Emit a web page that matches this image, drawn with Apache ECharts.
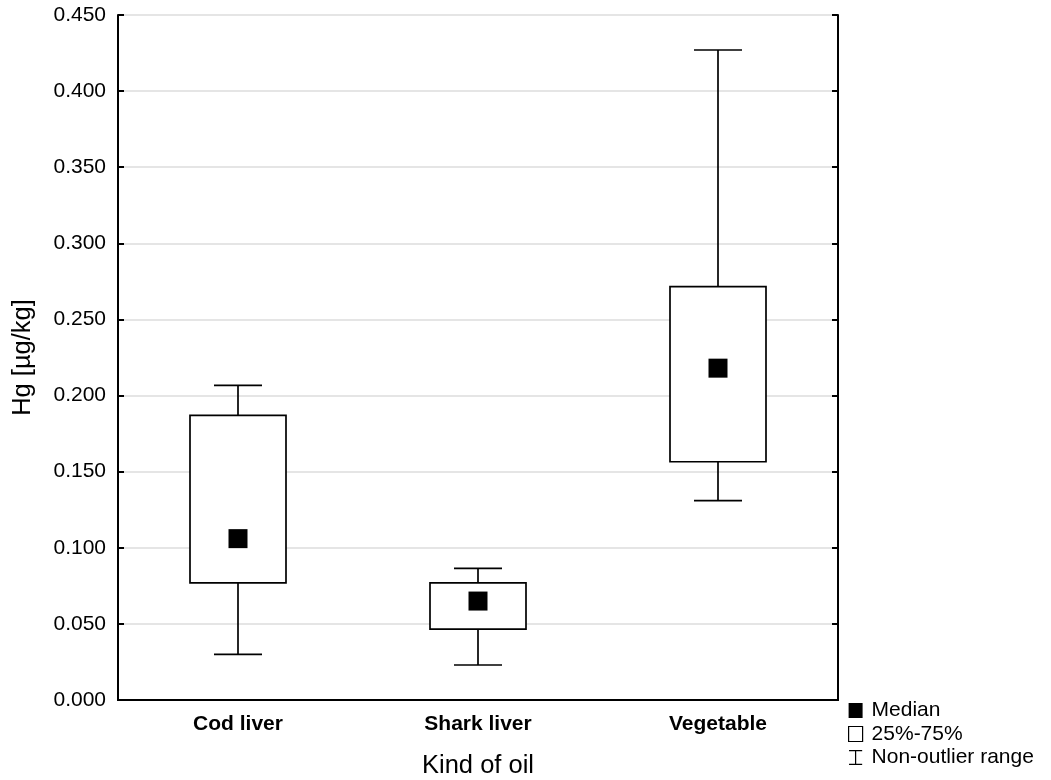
<!DOCTYPE html>
<html>
<head>
<meta charset="utf-8">
<script src="https://cdn.jsdelivr.net/npm/echarts@6/dist/echarts.min.js"></script>
<style>html,body{margin:0;padding:0;background:#fff}#c{width:1051px;height:780px}</style>
</head>
<body>
<div id="c"></div>
<script>
const categories = ['Cod liver', 'Shark liver', 'Vegetable'];
const whiskerLow = [0.030, 0.023, 0.131];
const q1 = [0.077, 0.0465, 0.1565];
const median = [0.106, 0.065, 0.218];
const q3 = [0.187, 0.077, 0.2715];
const whiskerHigh = [0.2067, 0.0865, 0.427];
const yTicks = { min: 0, max: 0.45, interval: 0.05 };

const boxData = categories.map((c, i) => [i, q1[i], q3[i]]);
const whiskerData = categories.map((c, i) => [i, whiskerLow[i], q1[i], q3[i], whiskerHigh[i]]);
const medianData = categories.map((c, i) => [i, median[i]]);

const chart = echarts.init(document.getElementById('c'), null, { renderer: 'canvas' });
const font = 'Liberation Sans, Arial, sans-serif';
const lineStyle = { stroke: '#000', lineWidth: 1.7 };
const axisLine = { color: '#000', width: 2 };

chart.setOption({
  animation: false,
  backgroundColor: '#fff',
  textStyle: { fontFamily: font, color: '#000' },
  grid: { left: 118, top: 15, right: 213, bottom: 80, containLabel: false, outerBoundsMode: 'none' },
  legend: {
    orient: 'vertical', left: 848, top: 700, padding: 0,
    itemWidth: 14, itemHeight: 15, itemGap: 2.5,
    textStyle: { fontSize: 21, lineHeight: 21, color: '#000', fontFamily: font, padding: [0, 0, 0, 4] },
    data: [
      { name: 'Median', icon: 'rect', itemStyle: { color: '#000', borderWidth: 0, opacity: 1 } },
      { name: '25%-75%', icon: 'rect', itemStyle: { color: '#fff', borderColor: '#000', borderWidth: 1.2 } },
      { name: 'Non-outlier range', icon: 'path://M0,0h14v1.3h-6.35v13.4h6.35v1.3h-14v-1.3h6.35v-13.4h-6.35z', itemStyle: { color: '#000', borderWidth: 0 } }
    ]
  },
  xAxis: [{
    type: 'category', data: categories, boundaryGap: true,
    name: 'Kind of oil', nameLocation: 'middle', nameGap: 53,
    nameTextStyle: { fontSize: 25.5, color: '#000', fontFamily: font },
    axisLine: { lineStyle: axisLine },
    axisTick: { inside: true, alignWithLabel: true, length: 6, lineStyle: axisLine },
    axisLabel: { fontSize: 21, fontWeight: 'bold', color: '#000', margin: 14, fontFamily: font },
    splitLine: { show: false }
  }, {
    type: 'category', data: categories, position: 'top', boundaryGap: true,
    axisLine: { lineStyle: axisLine },
    axisTick: { inside: true, alignWithLabel: true, length: 6, lineStyle: axisLine },
    axisLabel: { show: false }, splitLine: { show: false }
  }],
  yAxis: [{
    type: 'value', min: yTicks.min, max: yTicks.max, interval: yTicks.interval,
    name: 'Hg [µg/kg]', nameLocation: 'middle', nameGap: 82, nameRotate: 90,
    nameTextStyle: { fontSize: 25.5, color: '#000', fontFamily: font },
    axisLine: { show: true, lineStyle: axisLine },
    axisTick: { show: true, inside: true, length: 6, lineStyle: axisLine },
    axisLabel: { fontSize: 21, color: '#000', margin: 12, fontFamily: font, formatter: v => v.toFixed(3) },
    splitLine: { show: true, lineStyle: { color: '#dcdcdc', width: 1.5 } }
  }, {
    type: 'value', min: yTicks.min, max: yTicks.max, interval: yTicks.interval, position: 'right',
    axisLine: { show: true, lineStyle: axisLine },
    axisTick: { show: true, inside: true, length: 6, lineStyle: axisLine },
    axisLabel: { show: false }, splitLine: { show: false }
  }],
  series: [{
    name: 'Non-outlier range', type: 'custom', data: whiskerData, z: 2,
    itemStyle: { color: '#000' },
    renderItem: function (params, api) {
      const x = api.value(0);
      const pLow = api.coord([x, api.value(1)]);
      const pQ1 = api.coord([x, api.value(2)]);
      const pQ3 = api.coord([x, api.value(3)]);
      const pHigh = api.coord([x, api.value(4)]);
      const band = api.size([1, 0])[0];
      const half = band * 0.1;
      const cx = pLow[0];
      return { type: 'group', children: [
        { type: 'line', shape: { x1: cx, y1: pQ3[1], x2: cx, y2: pHigh[1] }, style: lineStyle },
        { type: 'line', shape: { x1: cx - half, y1: pHigh[1], x2: cx + half, y2: pHigh[1] }, style: lineStyle },
        { type: 'line', shape: { x1: cx, y1: pQ1[1], x2: cx, y2: pLow[1] }, style: lineStyle },
        { type: 'line', shape: { x1: cx - half, y1: pLow[1], x2: cx + half, y2: pLow[1] }, style: lineStyle }
      ] };
    }
  }, {
    name: '25%-75%', type: 'custom', data: boxData, z: 3,
    itemStyle: { color: '#fff', borderColor: '#000' },
    renderItem: function (params, api) {
      const x = api.value(0);
      const pQ1 = api.coord([x, api.value(1)]);
      const pQ3 = api.coord([x, api.value(2)]);
      const band = api.size([1, 0])[0];
      const w = band * 0.4;
      return { type: 'rect', shape: { x: pQ1[0] - w / 2, y: pQ3[1], width: w, height: pQ1[1] - pQ3[1] },
        style: { fill: '#fff', stroke: '#000', lineWidth: 1.7 } };
    }
  }, {
    name: 'Median', type: 'scatter', data: medianData, z: 4,
    symbol: 'rect', symbolSize: 19,
    itemStyle: { color: '#000', opacity: 1 }
  }]
});
</script>
</body>
</html>
